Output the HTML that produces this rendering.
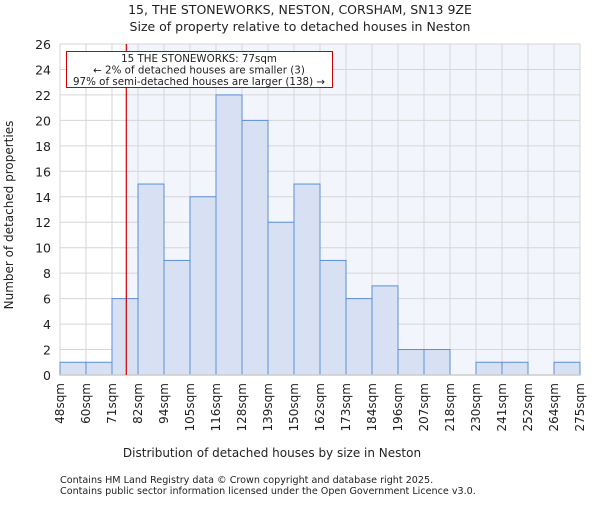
<!DOCTYPE html>
<html><head><meta charset="utf-8"><style>
body{margin:0;background:#fff;font-family:"Liberation Sans","DejaVu Sans",sans-serif;}
svg text{font-family:"DejaVu Sans","Liberation Sans",sans-serif;fill:#222;}
</style></head><body>
<svg id="c" width="600" height="500" xmlns="http://www.w3.org/2000/svg">
<text x="300" y="14" text-anchor="middle" font-size="12.5">15, THE STONEWORKS, NESTON, CORSHAM, SN13 9ZE</text>
<text x="300" y="31" text-anchor="middle" font-size="12.5">Size of property relative to detached houses in Neston</text>
<g id="plot"></g>
<text x="272" y="457" text-anchor="middle" font-size="12">Distribution of detached houses by size in Neston</text>
<text transform="translate(13,215) rotate(-90)" text-anchor="middle" font-size="12">Number of detached properties</text>
<text x="60" y="483" font-size="9.6" fill="#444">Contains HM Land Registry data © Crown copyright and database right 2025.</text>
<text x="60" y="494" font-size="9.6" fill="#444">Contains public sector information licensed under the Open Government Licence v3.0.</text>
</svg>
<script>
const binLabels=["48sqm","60sqm","71sqm","82sqm","94sqm","105sqm","116sqm","128sqm","139sqm","150sqm","162sqm","173sqm","184sqm","196sqm","207sqm","218sqm","230sqm","241sqm","252sqm","264sqm","275sqm"];
const counts=[1,1,6,15,9,14,22,20,12,15,9,6,7,2,2,0,1,1,0,1];
const yTicks=[0,2,4,6,8,10,12,14,16,18,20,22,24,26];
const markerBin=2.55;
const L=60,R=580,T=44,B=375,YMAX=26;
const NS="http://www.w3.org/2000/svg";
const g=document.getElementById('plot');
const xs=i=>L+(R-L)*i/counts.length;
const ys=v=>B-(B-T)*v/YMAX;
function mk(t,a){const e=document.createElementNS(NS,t);for(const k in a)e.setAttribute(k,a[k]);g.appendChild(e);return e;}
const mx=xs(markerBin);
let e;
e=mk('rect',{x:L,y:T,width:R-L,height:B-T,fill:'#fff'});


e=mk('rect',{x:mx,y:T,width:R-mx,height:B-T,fill:'#f2f5fc'});


yTicks.forEach(v=>{
 e=mk('line',{x1:L,x2:R,y1:ys(v),y2:ys(v),stroke:'#d6d6d6','stroke-width':1});
 
 
 e=mk('text',{x:L-9,y:ys(v)+5,'text-anchor':'end','font-size':'12.5'});e.textContent=v;
 
 
});
binLabels.forEach((s,i)=>{
 e=mk('line',{x1:xs(i),x2:xs(i),y1:T,y2:B,stroke:'#d6d6d6','stroke-width':1});
 
 
 const x=xs(i);
 e=mk('text',{x:0,y:0,'text-anchor':'end','font-size':'12',transform:`translate(${x+4},${B+8}) rotate(-90)`});e.textContent=s;
 
 
});
counts.forEach((v,i)=>{
 if(v<=0)return;
 e=mk('rect',{x:xs(i),y:ys(v),width:xs(i+1)-xs(i),height:B-ys(v),fill:'#d7e1f3',stroke:'#5b8fd6','stroke-width':1});
 
 
});
e=mk('line',{x1:L,x2:R,y1:B,y2:B,stroke:'#ccc','stroke-width':1.5});


e=mk('line',{x1:mx,x2:mx,y1:T,y2:B,stroke:'#cc0000','stroke-width':1.2});


e=mk('rect',{x:66.5,y:51.5,width:266,height:36,fill:'#fff',stroke:'#cc0000','stroke-width':1});


const ann=["15 THE STONEWORKS: 77sqm","← 2% of detached houses are smaller (3)","97% of semi-detached houses are larger (138) →"];
ann.forEach((s,i)=>{
 e=mk('text',{x:199,y:62+i*11.5,'text-anchor':'middle','font-size':'10.3'});e.textContent=s;
 
 
});
</script>
</body></html>
